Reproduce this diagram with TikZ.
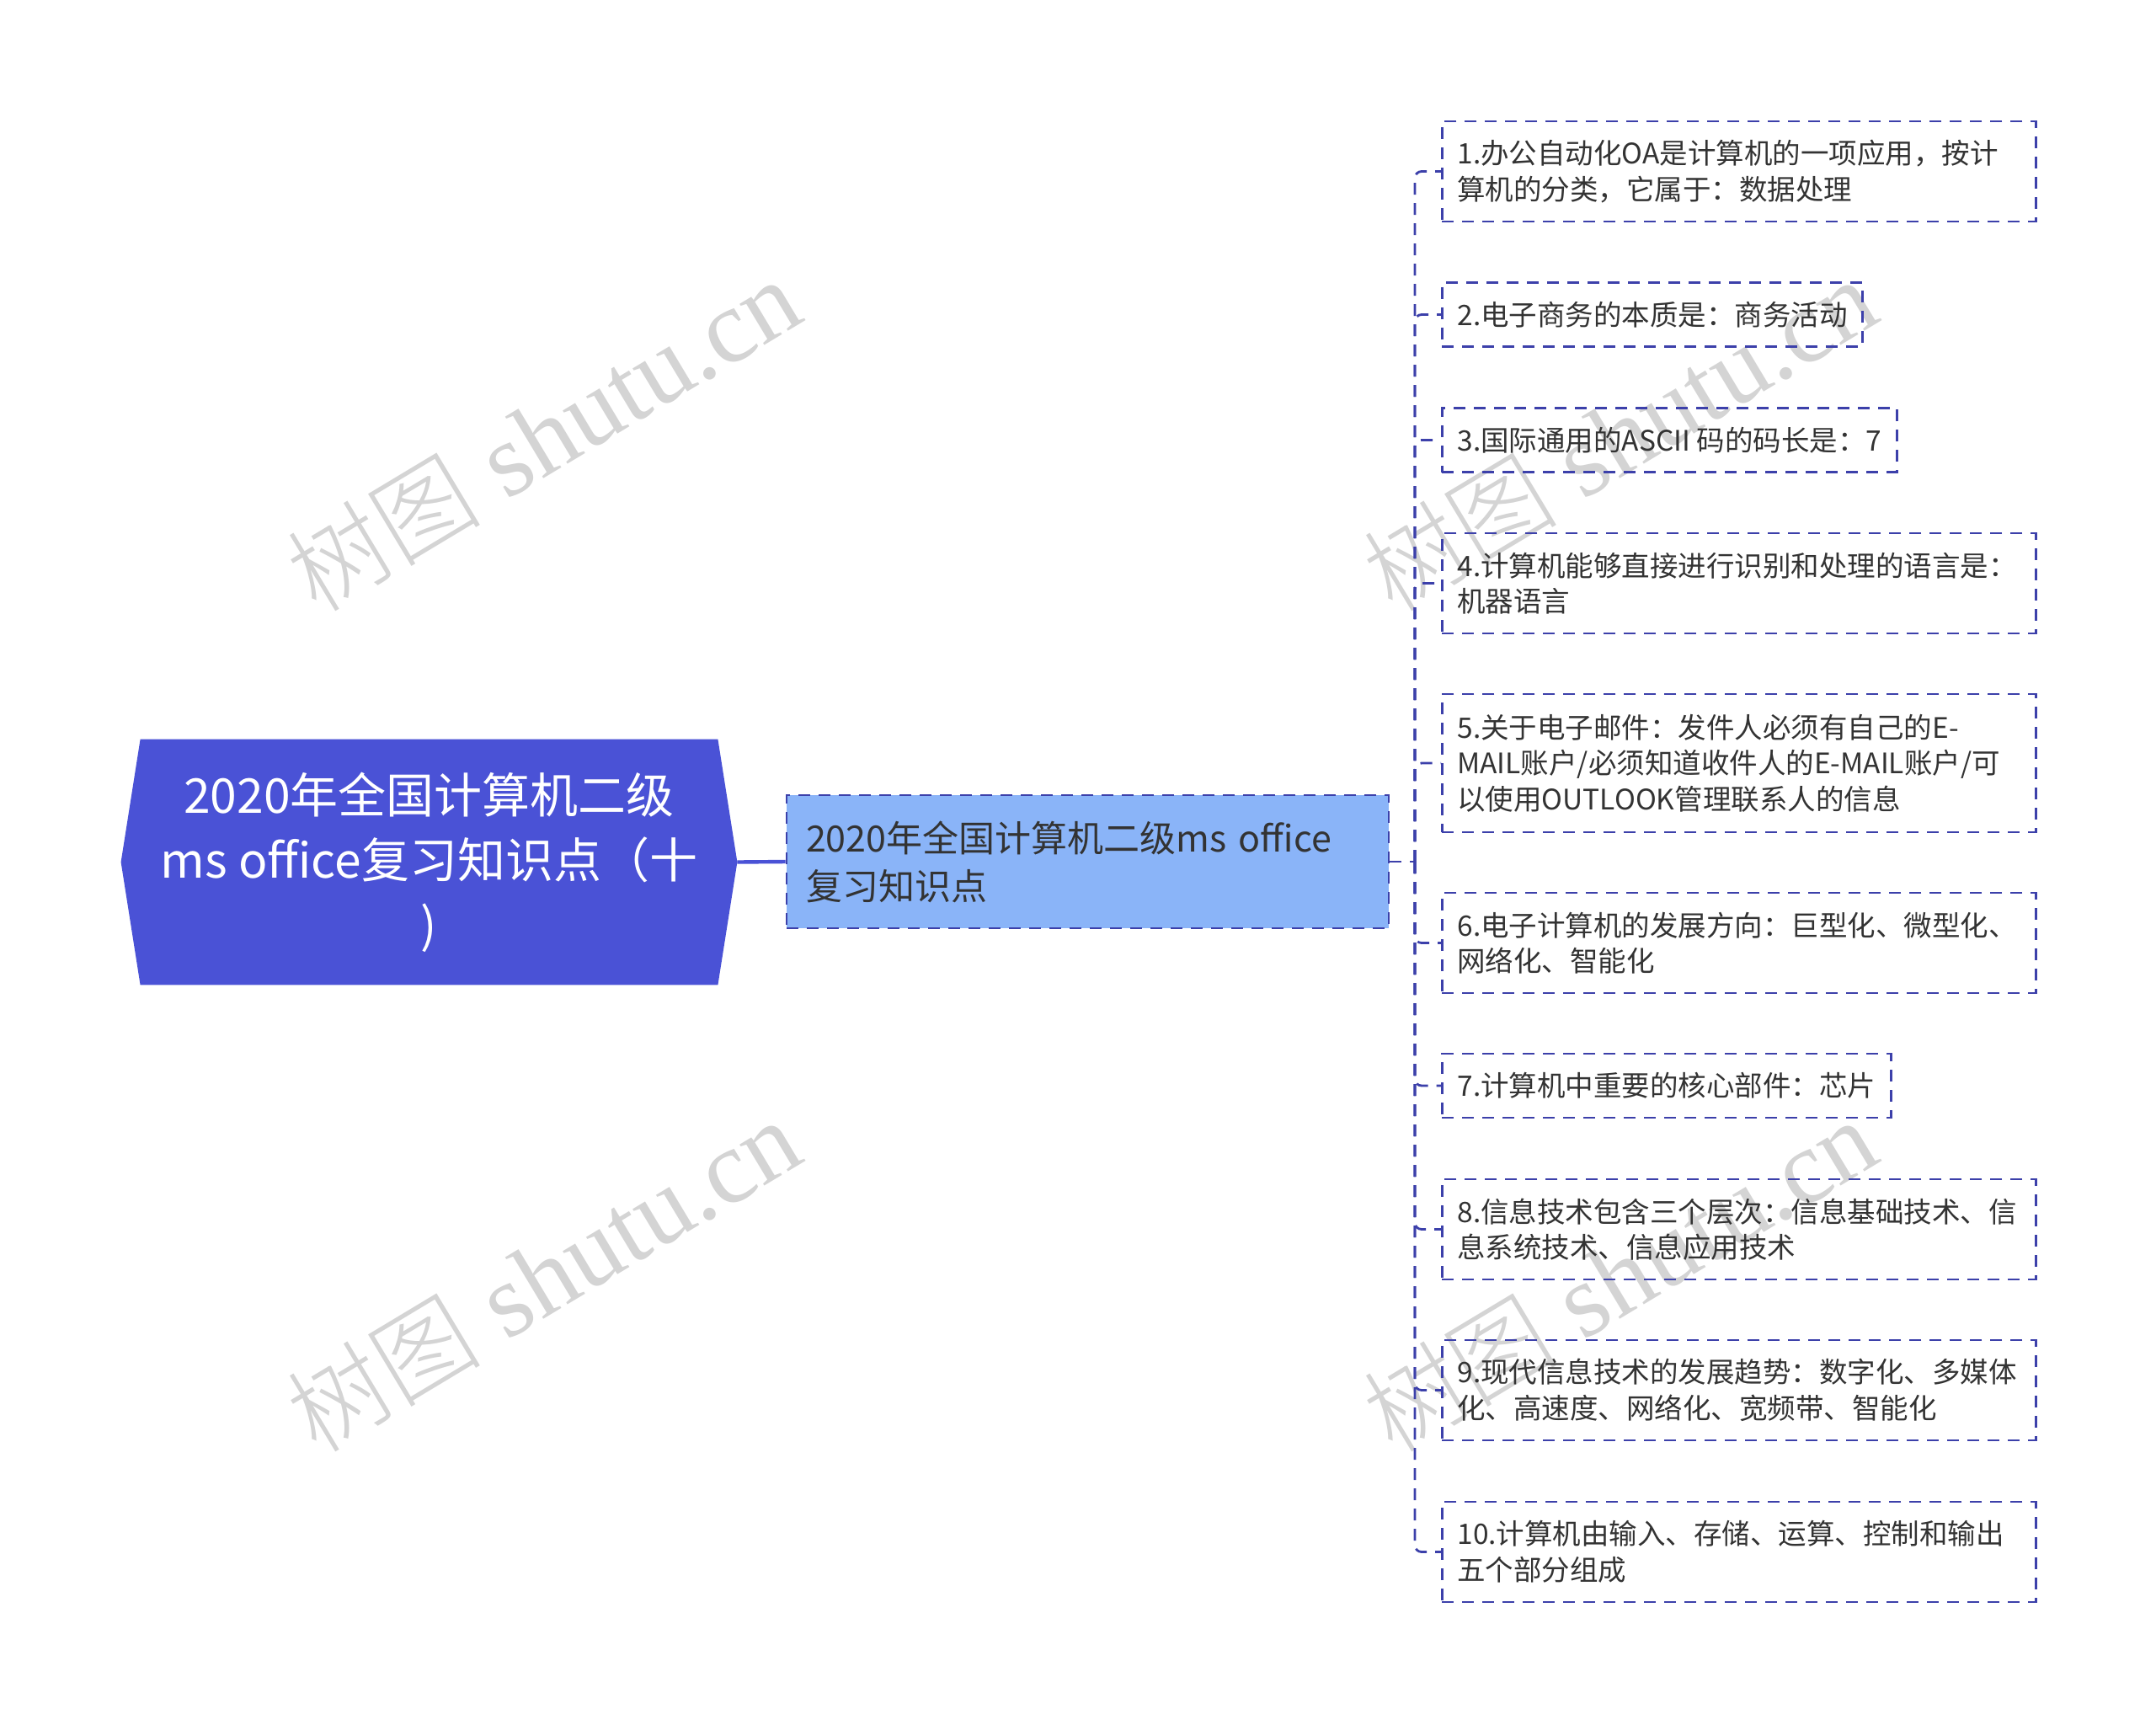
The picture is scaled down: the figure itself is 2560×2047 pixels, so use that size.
\documentclass[tikz,border=0pt]{standalone}
\usepackage{fontspec}
\setmainfont{Noto Sans CJK SC}
\newfontfamily\wmserif{Liberation Serif}
\newfontfamily\wmcjk{Noto Sans CJK SC Light}
\usetikzlibrary{backgrounds}
\definecolor{rootfill}{RGB}{74,82,214}
\definecolor{midfill}{RGB}{138,180,248}
\definecolor{leafline}{RGB}{60,64,170}
\definecolor{txt}{RGB}{51,51,51}
\definecolor{wmgray}{RGB}{212,212,212}
\newcommand{\wmtext}{{\wmcjk\fontsize{58}{58}\selectfont 树图}{\wmserif\fontsize{62}{62}\selectfont\ shutu.cn}}
\begin{document}
\begin{tikzpicture}[x=0.5pt,y=-0.5pt,
  leaf/.style={draw=leafline, line width=1.4pt, dash pattern=on 7pt off 5pt,
    text=txt, font=\fontsize{16.75}{21.25}\selectfont, align=left,
    anchor=west, inner xsep=9pt, inner ysep=0pt},
  leafwide/.style={leaf, text width=334.5pt},
  hone/.style={minimum height=38pt},
  htwo/.style={minimum height=59.5pt},
  hthree/.style={minimum height=82pt},
  rootnode/.style={minimum width=365.5pt, minimum height=145.5pt, inner sep=0pt,
    align=center, text=white, font=\fontsize{28.5}{38.5}\selectfont},
  midnode/.style={fill=midfill, draw=leafline, line width=1.4pt,
    dash pattern=on 7pt off 5pt, text=txt, text width=334.5pt, inner xsep=11.5pt,
    inner ysep=0pt, minimum height=79pt, align=left,
    font=\fontsize{21.5}{28.5}\selectfont},
  conn/.style={draw=leafline, line width=1.4pt, dash pattern=on 7pt off 5pt},
  rootline/.style={draw=rootfill, line width=2.2pt},
  wm/.style={text=wmgray, rotate=31, inner sep=0pt}
]
\useasboundingbox (0,0) rectangle (2560,2047);

% watermarks
\node[wm] (wm1) at (645,517) {\wmtext};
\node[wm] (wm2) at (1923,517) {\wmtext};
\node[wm] (wm3) at (645,1515) {\wmtext};
\node[wm] (wm4) at (1923,1515) {\wmtext};

% root
\node[rootnode] (root) at (509.5,1023.5) {2020年全国计算机二级\\ms office复习知识点（十\\)};
\begin{scope}[on background layer]
  \fill[white] (0,0) rectangle (2560,2047);
  \fill[rootfill] ([xshift=11.5pt]root.north west) -- ([xshift=-11.5pt]root.north east)
    -- (root.east) -- ([xshift=-11.5pt]root.south east)
    -- ([xshift=11.5pt]root.south west) -- (root.west) -- cycle;
\end{scope}

% middle
\node[midnode] (mid) at (1291.5,1023) {2020年全国计算机二级ms office\\复习知识点};

% leaves
\node[leafwide,htwo] (l1) at (1711,203.5) {1.办公自动化OA是计算机的一项应用，按计\\算机的分类，它属于：数据处理};
\node[leaf,hone] (l2) at (1711,373.5) {2.电子商务的本质是：商务活动};
\node[leaf,hone] (l3) at (1711,522.5) {3.国际通用的ASCII 码的码长是：7};
\node[leafwide,htwo] (l4) at (1711,692.5) {4.计算机能够直接进行识别和处理的语言是：\\机器语言};
\node[leafwide,hthree] (l5) at (1711,906) {5.关于电子邮件：发件人必须有自己的E-\\MAIL账户/必须知道收件人的E-MAIL账户/可\\以使用OUTLOOK管理联系人的信息};
\node[leafwide,htwo] (l6) at (1711,1119.5) {6.电子计算机的发展方向：巨型化、微型化、\\网络化、智能化};
\node[leaf,hone] (l7) at (1711,1289) {7.计算机中重要的核心部件：芯片};
\node[leafwide,htwo] (l8) at (1711,1459.5) {8.信息技术包含三个层次：信息基础技术、信\\息系统技术、信息应用技术};
\node[leafwide,htwo] (l9) at (1711,1650.5) {9.现代信息技术的发展趋势：数字化、多媒体\\化、高速度、网络化、宽频带、智能化};
\node[leafwide,htwo] (l10) at (1711,1842.5) {10.计算机由输入、存储、运算、控制和输出\\五个部分组成};

% connectors
\draw[rootline] (root.east) -- (mid.west);
\coordinate (tr) at (1680,1023);
\draw[conn] (mid.east) -- (tr);
\foreach \n in {1,...,10}{
  \draw[conn, rounded corners=4pt] (tr) |- (l\n.west);
}
\end{tikzpicture}
\end{document}
